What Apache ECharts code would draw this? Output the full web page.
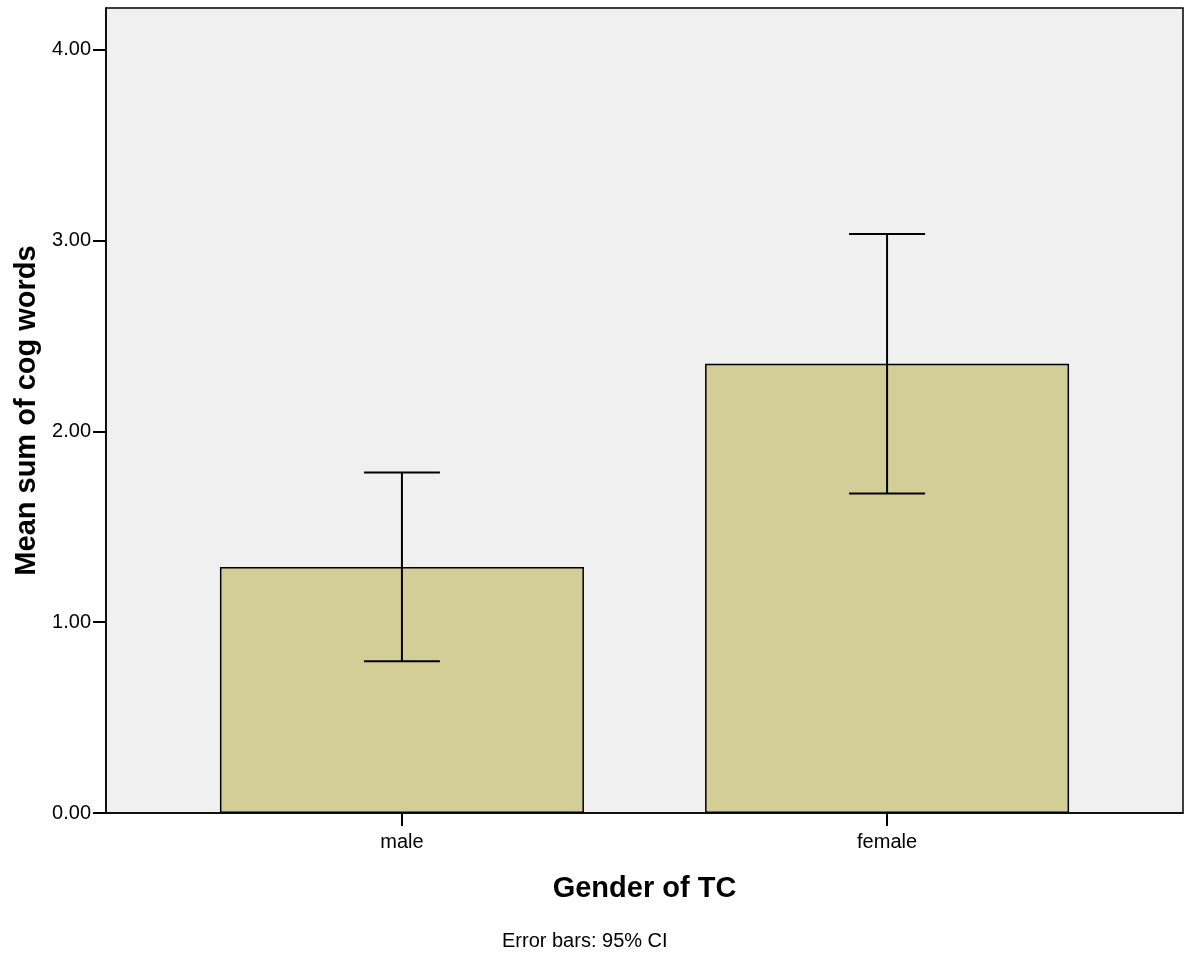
<!DOCTYPE html>
<html>
<head>
<meta charset="utf-8">
<script src="https://cdn.jsdelivr.net/npm/echarts@6/dist/echarts.min.js"></script>
<style>
  html, body { margin: 0; padding: 0; background: #ffffff; }
  #chart { width: 1189px; height: 958px; }
</style>
</head>
<body>
<div id="chart"></div>
<script>
const categories = ['male', 'female'];
const means = [1.29, 2.355];
const ciLow = [0.795, 1.675];
const ciHigh = [1.785, 3.035];
const yTicks = [0, 1, 2, 3, 4];
const catPositions = [1, 2];

const barData = categories.map((c, i) => [catPositions[i], means[i]]);
const errData = categories.map((c, i) => [catPositions[i], ciLow[i], ciHigh[i]]);

const FONT = '"Liberation Sans", Arial, sans-serif';

const chart = echarts.init(document.getElementById('chart'), null, { renderer: 'canvas' });
chart.setOption({
  animation: false,
  backgroundColor: '#ffffff',
  title: {
    text: 'Error bars: 95% CI',
    left: 502,
    top: 931,
    textStyle: { fontFamily: FONT, fontSize: 20, fontWeight: 'normal', color: '#000' },
    padding: 0
  },
  grid: {
    left: 106, right: 6, top: 8, bottom: 145,
    show: true,
    backgroundColor: '#f0f0f0',
    borderColor: '#000',
    borderWidth: 1.5
  },
  xAxis: {
    type: 'value',
    min: 0.39,
    max: 2.61,
    splitLine: { show: false },
    axisLine: { show: true, lineStyle: { color: '#000', width: 1.5 } },
    axisTick: { show: true, length: 13, lineStyle: { color: '#000', width: 2 }, customValues: catPositions },
    axisLabel: {
      customValues: catPositions,
      margin: 19,
      fontFamily: FONT, fontSize: 20, color: '#000',
      formatter: v => categories[catPositions.indexOf(Math.round(v))] || ''
    },
    name: 'Gender of TC',
    nameLocation: 'middle',
    nameGap: 61,
    nameTextStyle: { fontFamily: FONT, fontSize: 29, fontWeight: 'bold', color: '#000' }
  },
  yAxis: {
    type: 'value',
    min: 0,
    max: 4.22,
    splitLine: { show: false },
    axisLine: { show: true, lineStyle: { color: '#000', width: 1.5 } },
    axisTick: { show: true, length: 13, lineStyle: { color: '#000', width: 2 }, customValues: yTicks },
    axisLabel: {
      customValues: yTicks,
      margin: 15,
      fontFamily: FONT, fontSize: 20, color: '#000',
      padding: [3, 0, 0, 0],
      formatter: v => v.toFixed(2)
    },
    name: 'Mean sum of cog words',
    nameLocation: 'middle',
    nameGap: 63,
    nameTextStyle: { fontFamily: FONT, fontSize: 29, fontWeight: 'bold', color: '#000' }
  },
  series: [
    {
      type: 'bar',
      data: barData,
      barWidth: 364,
      itemStyle: { color: '#d3cd98', borderColor: '#000', borderWidth: 1.5 },
      z: 2
    },
    {
      type: 'custom',
      data: errData,
      z: 5,
      renderItem: function (params, api) {
        const x = api.value(0);
        const lo = api.coord([x, api.value(1)]);
        const hi = api.coord([x, api.value(2)]);
        const hw = 38;
        const style = { stroke: '#000', lineWidth: 2 };
        return {
          type: 'group',
          children: [
            { type: 'line', shape: { x1: hi[0], y1: hi[1], x2: lo[0], y2: lo[1] }, style: style },
            { type: 'line', shape: { x1: hi[0] - hw, y1: hi[1], x2: hi[0] + hw, y2: hi[1] }, style: style },
            { type: 'line', shape: { x1: lo[0] - hw, y1: lo[1], x2: lo[0] + hw, y2: lo[1] }, style: style }
          ]
        };
      }
    }
  ]
});
</script>
</body>
</html>
